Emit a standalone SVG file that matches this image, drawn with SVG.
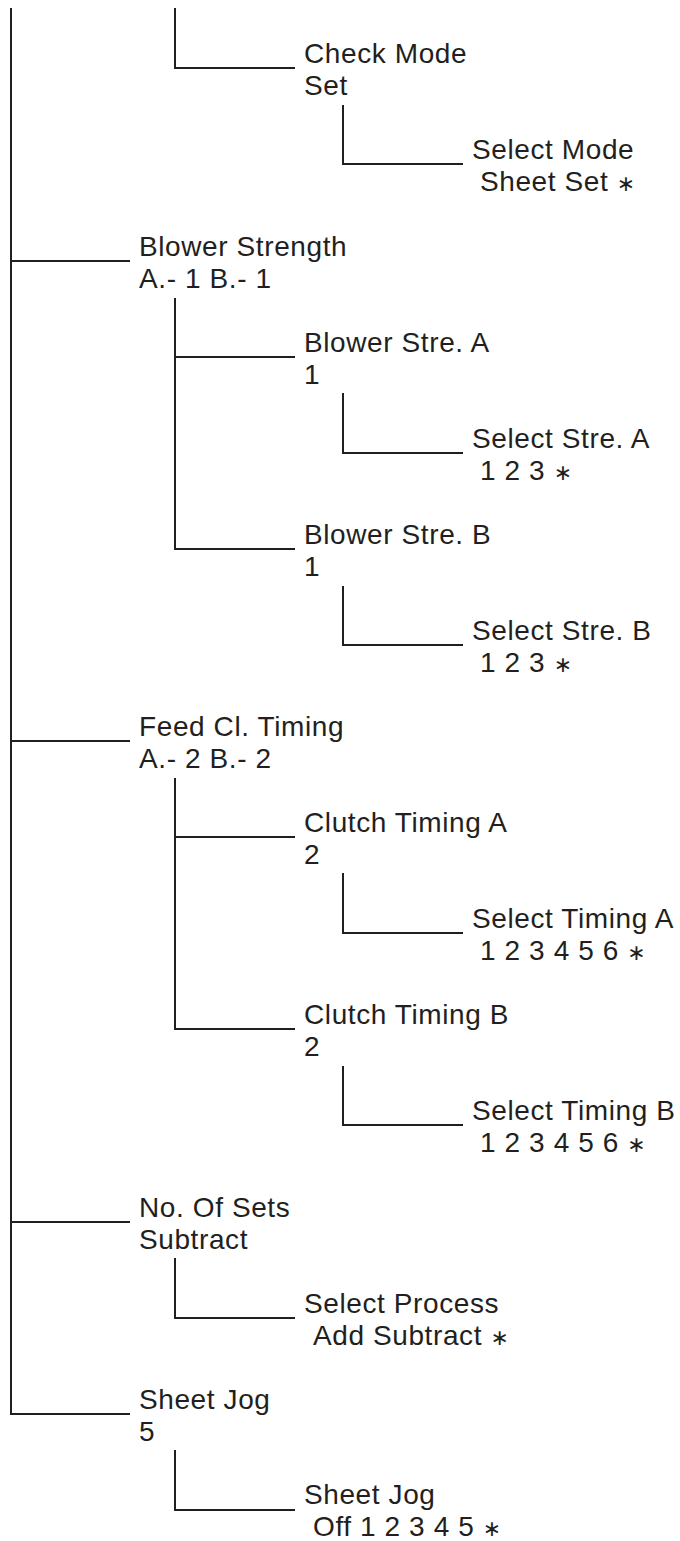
<svg xmlns="http://www.w3.org/2000/svg" width="680" height="1541" viewBox="0 0 680 1541">
<style>
text{font-family:"Liberation Sans",Arial,"DejaVu Sans",sans-serif;font-size:28px;fill:#231f20;letter-spacing:0.6px}
.ast{font-family:"DejaVu Sans",sans-serif;font-size:22px}
#connectors path{fill:none;stroke:#231f20;stroke-width:2}
</style>
<rect width="680" height="1541" fill="#fff"/>
<g id="connectors">
<path d="M11 8 V1414 H130"/>
<path d="M11 261 H130"/>
<path d="M11 741 H130"/>
<path d="M11 1222 H130"/>
<path d="M175 8 V68 H295"/>
<path d="M343 105 V164 H463"/>
<path d="M175 298 V549 H295"/>
<path d="M175 357 H295"/>
<path d="M343 393 V453 H463"/>
<path d="M343 586 V645 H463"/>
<path d="M175 778 V1029 H295"/>
<path d="M175 837 H295"/>
<path d="M343 873 V933 H463"/>
<path d="M343 1066 V1125 H463"/>
<path d="M175 1258 V1318 H295"/>
<path d="M175 1450 V1510 H295"/>
</g>
<g id="check-mode"><text x="304" y="63">Check Mode</text><text x="304" y="95">Set</text></g>
<g id="select-mode"><text x="472" y="159">Select Mode</text><text x="480" y="191">Sheet Set <tspan class="ast">∗</tspan></text></g>
<g id="blower-strength"><text x="139" y="256">Blower Strength</text><text x="139" y="288">A.- 1 B.- 1</text></g>
<g id="blower-stre-a"><text x="304" y="352">Blower Stre. A</text><text x="304" y="384">1</text></g>
<g id="select-stre-a"><text x="472" y="448">Select Stre. A</text><text x="480" y="480">1 2 3 <tspan class="ast">∗</tspan></text></g>
<g id="blower-stre-b"><text x="304" y="544">Blower Stre. B</text><text x="304" y="576">1</text></g>
<g id="select-stre-b"><text x="472" y="640">Select Stre. B</text><text x="480" y="672">1 2 3 <tspan class="ast">∗</tspan></text></g>
<g id="feed-cl-timing"><text x="139" y="736">Feed Cl. Timing</text><text x="139" y="768">A.- 2 B.- 2</text></g>
<g id="clutch-timing-a"><text x="304" y="832">Clutch Timing A</text><text x="304" y="864">2</text></g>
<g id="select-timing-a"><text x="472" y="928">Select Timing A</text><text x="480" y="960">1 2 3 4 5 6 <tspan class="ast">∗</tspan></text></g>
<g id="clutch-timing-b"><text x="304" y="1024">Clutch Timing B</text><text x="304" y="1056">2</text></g>
<g id="select-timing-b"><text x="472" y="1120">Select Timing B</text><text x="480" y="1152">1 2 3 4 5 6 <tspan class="ast">∗</tspan></text></g>
<g id="no-of-sets"><text x="139" y="1217">No. Of Sets</text><text x="139" y="1249">Subtract</text></g>
<g id="select-process"><text x="304" y="1313">Select Process</text><text x="313" y="1345">Add Subtract <tspan class="ast">∗</tspan></text></g>
<g id="sheet-jog"><text x="139" y="1409">Sheet Jog</text><text x="139" y="1441">5</text></g>
<g id="sheet-jog-select"><text x="304" y="1504">Sheet Jog</text><text x="313" y="1536">Off 1 2 3 4 5 <tspan class="ast">∗</tspan></text></g>
</svg>
